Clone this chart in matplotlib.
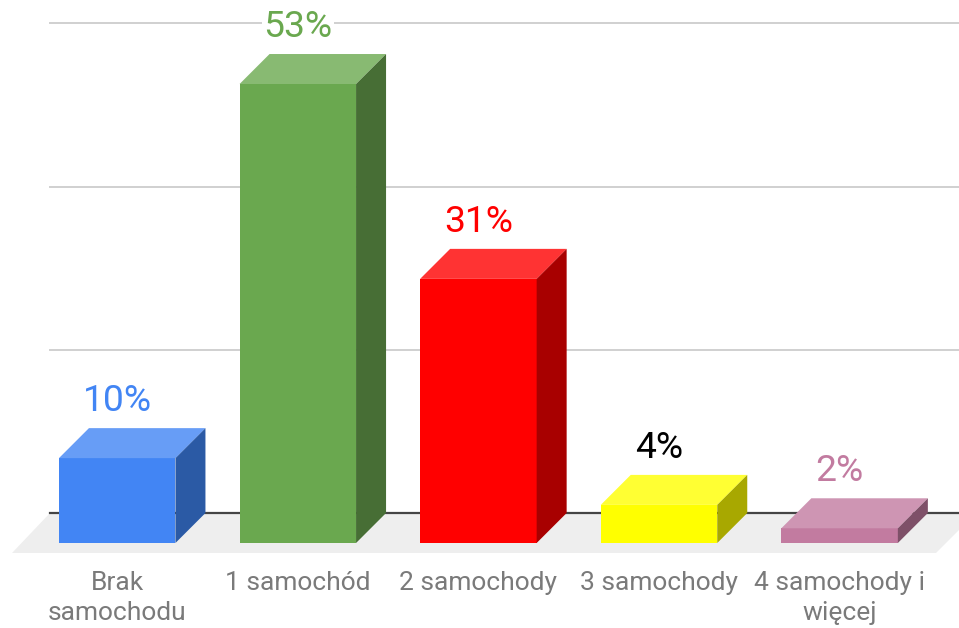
import matplotlib
matplotlib.use('Agg')
import matplotlib.pyplot as plt

plt.rcParams['font.family'] = ['Roboto', 'DejaVu Sans']

categories = ['Brak\nsamochodu', '1 samochód', '2 samochody', '3 samochody', '4 samochody i\nwięcej']
values = [9.8, 53.0, 30.5, 4.4, 1.7]
value_labels = ['10%', '53%', '31%', '4%', '2%']
grid_values = [18.85, 37.7, 56.55]
front_colors = ['#4285f4', '#6aa84f', '#ff0000', '#ffff00', '#c27ba0']
top_colors = ['#679df6', '#88ba72', '#ff3333', '#ffff33', '#ce95b3']
side_colors = ['#2b5aa5', '#476e35', '#a80000', '#a8a800', '#7e5068']
label_colors = ['#4285f4', '#6aa84f', '#ff0000', '#000000', '#c27ba0']

W, H = 959, 628
x_scale = 180.6  # px per category
y_scale = 8.66  # px per percent
x0_px, y0_px = 117.2, 543
bar_w = 116.5 / x_scale
dx = 30 / x_scale
dy = 30 / y_scale

fig = plt.figure(figsize=[W / 100, H / 100], dpi=100)
ax = fig.add_axes([0, 0, 1, 1])
ax.set_xlim(-x0_px / x_scale, (W - x0_px) / x_scale)
ax.set_ylim(-(H - y0_px) / y_scale, y0_px / y_scale)
ax.axis('off')

# floor
fy = -10 / y_scale
ax.fill([(12 - x0_px) / x_scale, (936 - x0_px) / x_scale, (976 - x0_px) / x_scale, (50 - x0_px) / x_scale],
        [fy, fy, dy, dy], color='#eeeeee', lw=0, zorder=1)

# back wall lines
xl = (50 - x0_px) / x_scale
xr = (W - x0_px) / x_scale
for g in grid_values:
    ax.plot([xl, xr], [g + dy, g + dy], color='#d0d0d0', lw=1.4, zorder=1)
ax.plot([xl, xr], [dy, dy], color='#444444', lw=1.6, zorder=2)

for i, v in enumerate(values):
    l = i - bar_w / 2
    r = i + bar_w / 2
    ax.bar(i, v, width=bar_w, color=front_colors[i], lw=0, zorder=3)
    ax.fill([l, r, r + dx, l + dx], [v, v, v + dy, v + dy], color=top_colors[i], lw=0, zorder=3)
    ax.fill([r, r + dx, r + dx, r], [0, dy, v + dy, v], color=side_colors[i], lw=0, zorder=3)
    ax.text(i, v + dy + 2.0, value_labels[i], color=label_colors[i], fontsize=26.8, ha='center', va='baseline',
            zorder=4, bbox=dict(facecolor='white', edgecolor='none', pad=1))
    ax.text(i, -(571 - y0_px) / y_scale, categories[i], color='#7a7a7a', fontsize=19, ha='center', va='top',
            linespacing=1.32, zorder=4)

fig.savefig('out.png', dpi=100)
